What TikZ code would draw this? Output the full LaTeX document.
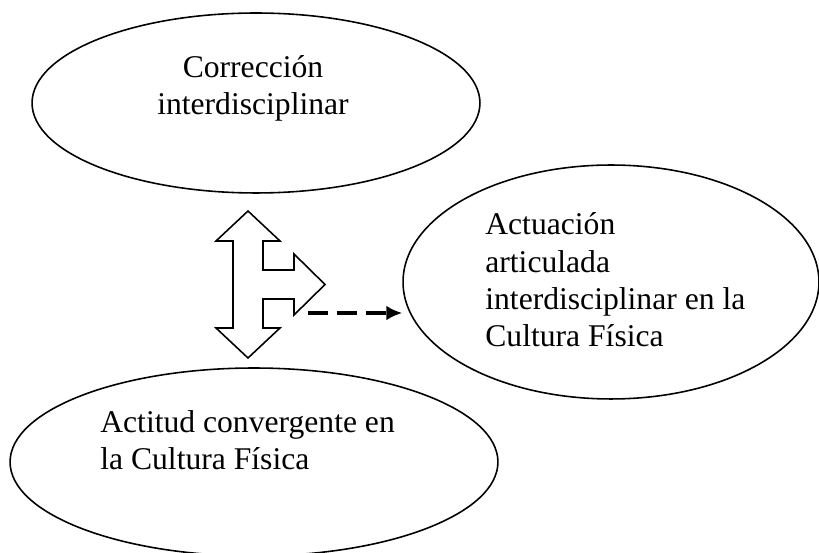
\documentclass[tikz,border=0pt]{standalone}
\usepackage{fontspec}
\setmainfont{Liberation Serif}
\usetikzlibrary{shapes.geometric, arrows.meta}
\tikzstyle{bubble} =
[ellipse, draw=black, line width = 0.9pt, inner sep = 0pt]
\tikzstyle{bubbletext} =
[inner sep = 0pt, font = \fontsize{18}{21.3}\selectfont]
\tikzstyle{blockarrow} = [draw=black, line width = 0.9pt, line join = miter, fill=white]
\tikzstyle{dashline} =
[draw, line width = 1.8pt, dash pattern = on 0.4cm off 0.18cm,
-{Latex[length=3.2mm, width=3mm]}]

\begin{document}
\begin{tikzpicture}[x = 0.02cm, y = -0.02cm]
  \useasboundingbox (0,0) rectangle (819,553);
  % ellipses
  \node [bubble, minimum width = 8.96cm, minimum height = 3.6cm] (corr) at (256,103) {};
  \node [bubble, minimum width = 8.32cm, minimum height = 4.68cm] (actu) at (611,282) {};
  \node [bubble, minimum width = 9.76cm, minimum height = 3.76cm] (acti) at (254,462) {};
  % texts (anchored on the last baseline)
  \node [bubbletext, align = center, anchor = base] (corrtxt) at (253,115)
   {Corrección\\ interdisciplinar};
  \node [bubbletext, align = left, anchor = base west] (actutxt) at (485,347)
   {Actuación\\ articulada\\ interdisciplinar en la\\ Cultura Física};
  \node [bubbletext, align = left, anchor = base west] (actitxt) at (100,470)
   {Actitud convergente en\\ la Cultura Física};
  %
  % three-way block arrow
  \path [blockarrow] (248,211) -- (280,241) -- (263,241) -- (263,270) -- (294,270)
   -- (294,254) -- (325,284.5) -- (294,315) -- (294,299) -- (263,299) -- (263,328)
   -- (280,328) -- (248,358) -- (216,328) -- (233,328) -- (233,241) -- (216,241)
   -- cycle;
  % dashed edge
  \coordinate (dstart) at (308,313);
  \path [dashline] (dstart) -- (dstart -| actu.west);
\end{tikzpicture}
\end{document}
